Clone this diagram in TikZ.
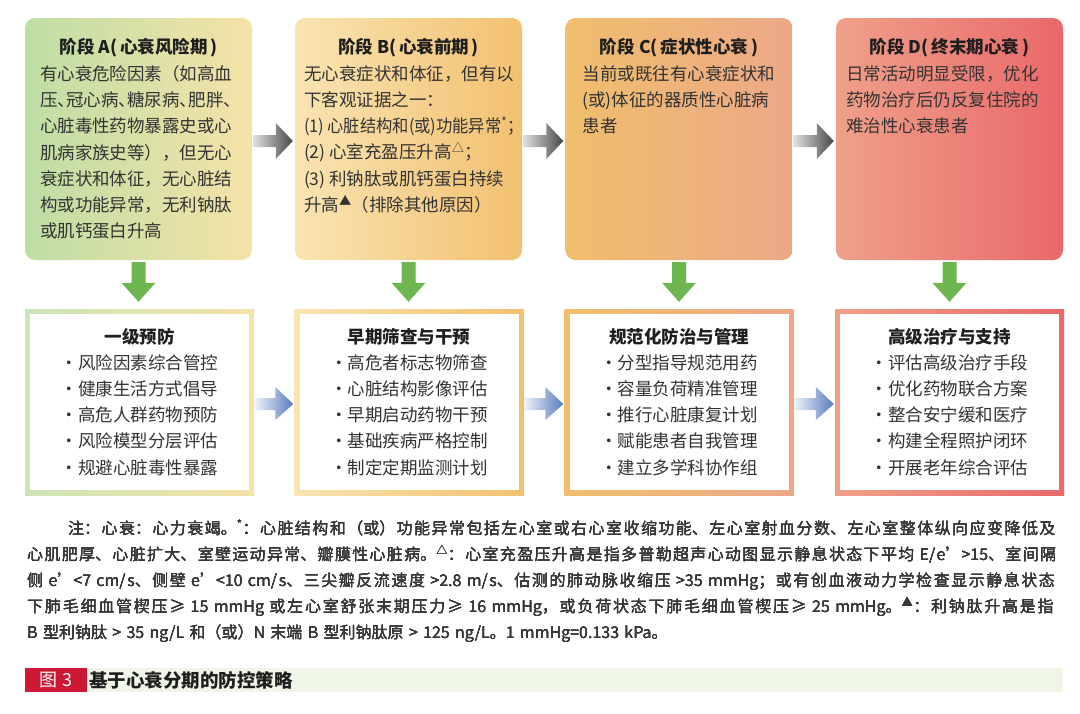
\documentclass[tikz,border=0pt]{standalone}
\usepackage{fontspec}
\usepackage{graphicx}
\setmainfont{Noto Sans CJK SC}
\usepackage{tikz}
\usetikzlibrary{calc,positioning}
\XeTeXlinebreaklocale "zh"
\XeTeXlinebreakskip=0pt plus 6pt
\definecolor{StageAL}{RGB}{190,222,165}
\definecolor{StageAR}{RGB}{245,226,168}
\definecolor{StageBL}{RGB}{249,228,178}
\definecolor{StageBR}{RGB}{242,192,112}
\definecolor{StageCL}{RGB}{240,190,108}
\definecolor{StageCR}{RGB}{236,168,136}
\definecolor{StageDL}{RGB}{239,160,138}
\definecolor{StageDR}{RGB}{234,104,106}
\definecolor{ArrowGreen}{RGB}{110,182,80}
\definecolor{ArrowBlue}{RGB}{80,115,187}
\definecolor{TextDark}{RGB}{51,51,51}
\definecolor{CapRed}{RGB}{204,24,52}
\definecolor{CapBar}{RGB}{239,245,231}
\newcommand\dun{\makebox[0.5em][l]{、}}
\newcommand\stagearrow[2]{%
  \shade[left color=black!12, middle color=black!55, right color=black!72]
    let \p1=(#1.east), \p2=(#2.west) in
    (\x1+1pt,\y1+4pt) -- (\x2-19pt,\y1+4pt) -- (\x2-19pt,\y1+16pt) -- (\x2-2pt,\y1-2pt)
    -- (\x2-19pt,\y1-20pt) -- (\x2-19pt,\y1-8pt) -- (\x1+1pt,\y1-8pt) -- cycle;}
\newcommand\planarrow[2]{%
  \shade[left color=ArrowBlue!10, middle color=ArrowBlue!50, right color=ArrowBlue!95]
    let \p1=(#1.east), \p2=(#2.west) in
    (\x1+1pt,\y1+4pt) -- (\x2-19pt,\y1+4pt) -- (\x2-19pt,\y1+15pt) -- (\x2-1pt,\y1-2pt)
    -- (\x2-19pt,\y1-18pt) -- (\x2-19pt,\y1-8pt) -- (\x1+1pt,\y1-8pt) -- cycle;}
\newcommand\greenarrow[2]{%
  \fill[ArrowGreen]
    let \p1=(#1.south), \p2=(#2.north) in
    (\x1-7pt,\y1-2pt) -- (\x1+7pt,\y1-2pt) -- (\x1+7pt,\y2+26pt) -- (\x1+17pt,\y2+26pt)
    -- (\x1,\y2+7pt) -- (\x1-17pt,\y2+26pt) -- (\x1-7pt,\y2+26pt) -- cycle;}
\tikzset{
  stagebox/.style={rounded corners=10pt, minimum width=227pt, minimum height=242pt, inner sep=0pt},
  planbox/.style={minimum width=229pt, minimum height=186pt, inner sep=0pt},
  planinner/.style={fill=white, minimum width=219pt, minimum height=176pt, inner sep=0pt},
  ttl/.style={font=\fontsize{17.5}{20}\selectfont\bfseries, text=black!88, inner sep=0pt},
  body/.style={font=\fontsize{17.5}{26.2}\selectfont, text=TextDark, align=left, anchor=north west, inner sep=0pt},
  items/.style={font=\fontsize{17.5}{26.2}\selectfont, text=TextDark, align=left, anchor=north, inner sep=0pt},
  notetext/.style={font=\fontsize{16}{26}\selectfont, text=black!78, text width=1036pt,
    anchor=north west, inner sep=0pt},
}

\begin{document}
\begin{tikzpicture}[x=1pt,y=-1pt]
  \useasboundingbox (0,0) rectangle (1080,713);
  \fill[white] (0,0) rectangle (1080,713);
  % Stage boxes
  \node[stagebox, left color=StageAL, right color=StageAR] (stA) at (138.5,139) {};
  \node[stagebox, left color=StageBL, right color=StageBR] (stB) at (408.5,139) {};
  \node[stagebox, left color=StageCL, right color=StageCR] (stC) at (679,139) {};
  \node[stagebox, left color=StageDL, right color=StageDR] (stD) at (949.5,139) {};
  \node[ttl] (stAt) at ([yshift=-29.5pt]stA.north) {阶段 A(\,心衰风险期\,)};
  \node[ttl] (stBt) at ([yshift=-29.5pt]stB.north) {阶段 B(\,心衰前期\,)};
  \node[ttl] (stCt) at ([yshift=-29.5pt]stC.north) {阶段 C(\,症状性心衰\,)};
  \node[ttl] (stDt) at ([yshift=-29.5pt]stD.north) {阶段 D(\,终末期心衰\,)};
  \node[body] (stAb) at ([xshift=15pt,yshift=-47.5pt]stA.north west)
    {有心衰危险因素（如高血\\压\dun 冠心病\dun 糖尿病\dun 肥胖\dun\\心脏毒性药物暴露史或心\\
     肌病家族史等），但无心\\衰症状和体征，无心脏结\\构或功能异常，无利钠肽\\或肌钙蛋白升高};
  \node[body] (stBb) at ([xshift=9pt,yshift=-47.5pt]stB.north west)
    {无心衰症状和体征，但有以\\下客观证据之一：\\
     \scalebox{0.93}[1]{(1) 心脏结构和(或)功能异常\textsuperscript{*}；}\\
     (2) 心室充盈压升高\textsuperscript{△}；\\(3) 利钠肽或肌钙蛋白持续\\升高\textsuperscript{▲}（排除其他原因）};
  \node[body] (stCb) at ([xshift=17pt,yshift=-47.5pt]stC.north west)
    {当前或既往有心衰症状和\\(或)体征的器质性心脏病\\患者};
  \node[body] (stDb) at ([xshift=10pt,yshift=-47.5pt]stD.north west)
    {日常活动明显受限，优化\\药物治疗后仍反复住院的\\难治性心衰患者};
  % Strategy boxes
  \node[planbox, left color=StageAL!80, right color=StageAR] (plA) at (139.5,402) {};
  \node[planbox, left color=StageBL, right color=StageBR] (plB) at (409,402) {};
  \node[planbox, left color=StageCL, right color=StageCR] (plC) at (679,402) {};
  \node[planbox, left color=StageDL, right color=StageDR] (plD) at (949.5,402) {};
  \foreach \s in {A,B,C,D}
    \node[planinner] (pl\s in) at (pl\s.center) {};
  \node[ttl] (plAt) at ([yshift=-28pt]plA.north) {一级预防};
  \node[ttl] (plBt) at ([yshift=-28pt]plB.north) {早期筛查与干预};
  \node[ttl] (plCt) at ([yshift=-28pt]plC.north) {规范化防治与管理};
  \node[ttl] (plDt) at ([yshift=-28pt]plD.north) {高级治疗与支持};
  \node[items] (plAi) at ([yshift=-45.5pt]plA.north)
    {・风险因素综合管控\\・健康生活方式倡导\\・高危人群药物预防\\・风险模型分层评估\\・规避心脏毒性暴露};
  \node[items] (plBi) at ([yshift=-45.5pt]plB.north)
    {・高危者标志物筛查\\・心脏结构影像评估\\・早期启动药物干预\\・基础疾病严格控制\\・制定定期监测计划};
  \node[items] (plCi) at ([yshift=-45.5pt]plC.north)
    {・分型指导规范用药\\・容量负荷精准管理\\・推行心脏康复计划\\・赋能患者自我管理\\・建立多学科协作组};
  \node[items] (plDi) at ([yshift=-45.5pt]plD.north)
    {・评估高级治疗手段\\・优化药物联合方案\\・整合安宁缓和医疗\\・构建全程照护闭环\\・开展老年综合评估};
  % Arrows
  \stagearrow{stA}{stB}
  \stagearrow{stB}{stC}
  \stagearrow{stC}{stD}
  \planarrow{plA}{plB}
  \planarrow{plB}{plC}
  \planarrow{plC}{plD}
  \foreach \s in {A,B,C,D}
    \greenarrow{st\s}{pl\s}
  % Note
  \node[notetext] (fnote) at (27,519)
    {\tolerance=9999\relax\leavevmode\hskip41pt\relax 注：心衰：心力衰竭。\textsuperscript{*}：心脏结构和（或）功能异常包括左心室或右心室收缩功能、左心室射血分数、左心室整体纵向应变降低及\linebreak
     心肌肥厚、心脏扩大、室壁运动异常、瓣膜性心脏病。\textsuperscript{△}：心室充盈压升高是指多普勒超声心动图显示静息状态下平均 E/e'>15、室间隔\linebreak
     侧 e'<7 cm/s、侧壁 e'<10 cm/s、三尖瓣反流速度 >2.8 m/s、估测的肺动脉收缩压 >35 mmHg；或有创血液动力学检查显示静息状态\linebreak
     下肺毛细血管楔压≥ 15 mmHg 或左心室舒张末期压力≥ 16 mmHg，或负荷状态下肺毛细血管楔压≥ 25 mmHg。\textsuperscript{▲}：利钠肽升高是指\linebreak
     B 型利钠肽 > 35 ng/L 和（或）N 末端 B 型利钠肽原 > 125 ng/L。1 mmHg=0.133 kPa。};
  % Caption
  \node[fill=CapRed, text=white, font=\fontsize{18}{20}\selectfont, minimum width=62pt,
        minimum height=24pt, inner sep=0pt] (figno) at (56,680) {图 3};
  \node[fill=CapBar, text=black!88, font=\fontsize{18.5}{20}\selectfont\bfseries, text width=972pt,
        minimum height=24pt, inner xsep=2pt, inner ysep=0pt, align=left, anchor=west] (figcap)
        at (figno.east) {基于心衰分期的防控策略};
\end{tikzpicture}
\end{document}
